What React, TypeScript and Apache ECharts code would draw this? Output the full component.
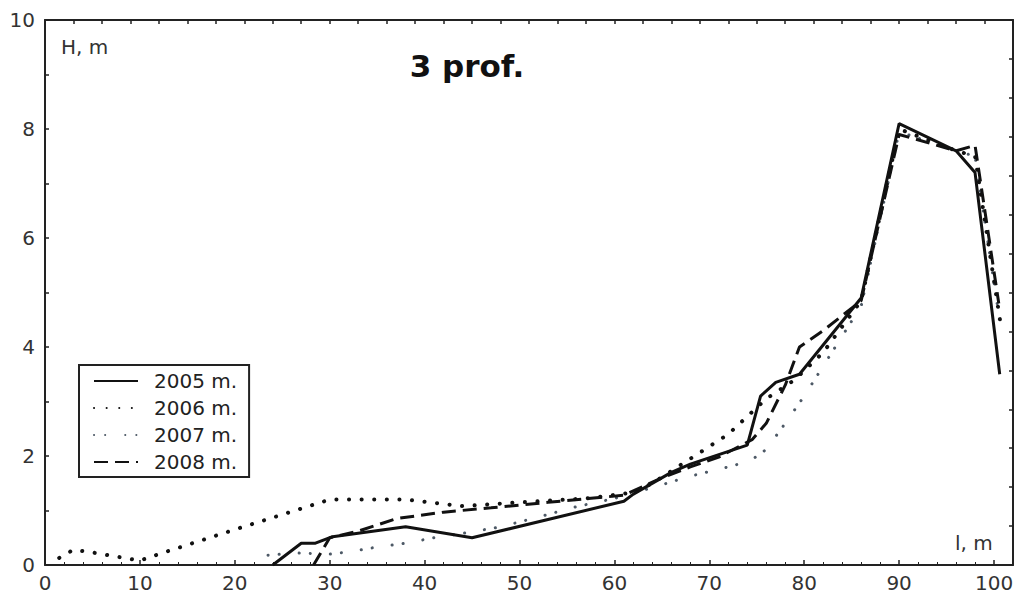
import React, { useEffect, useRef } from "react";
import * as echarts from "echarts";

const xTicks = [0, 10, 20, 30, 40, 50, 60, 70, 80, 90, 100];
const yTicks = [0, 2, 4, 6, 8, 10];

const s2005: [number, number][] = [
  [24, 0], [27, 0.4], [28.5, 0.4], [30.3, 0.52], [38, 0.7], [45, 0.5], [61, 1.17], [62, 1.3],
  [66, 1.7], [68, 1.85], [74, 2.2], [75.4, 3.1], [77, 3.35], [79.5, 3.5], [86, 4.9], [90, 8.1],
  [96, 7.6], [98, 7.2], [100.6, 3.5],
];
const s2006: [number, number][] = [
  [1.5, 0.13], [3, 0.28], [5, 0.23], [7, 0.17], [10, 0.08], [12, 0.2], [20, 0.65], [30, 1.2],
  [38, 1.2], [44, 1.08], [50, 1.15], [57, 1.22], [62, 1.33], [64, 1.5], [68, 1.95], [72, 2.4],
  [76, 3.05], [79, 3.4], [82, 3.9], [86, 4.85], [90, 8.0], [96, 7.6], [98, 7.5], [100.8, 4.3],
];
const s2007: [number, number][] = [
  [23.5, 0.18], [26.5, 0.22], [30, 0.2], [32, 0.24], [35, 0.33], [38, 0.4], [41, 0.5], [44, 0.58],
  [48, 0.7], [52, 0.88], [56, 1.07], [60, 1.22], [64, 1.42], [68, 1.63], [72, 1.8], [74.3, 1.91],
  [76, 2.12], [78, 2.6], [80, 3.1], [82, 3.65], [84, 4.2], [86, 4.75], [90, 7.95], [96, 7.6],
  [98, 7.5], [100.5, 4.6],
];
const s2008: [number, number][] = [
  [28.3, 0], [30, 0.5], [33, 0.62], [37, 0.85], [42, 0.97], [47, 1.05], [53, 1.15], [61, 1.28],
  [65, 1.6], [68, 1.8], [71, 1.98], [74.5, 2.3], [76, 2.6], [78, 3.3], [79.5, 4.0], [82, 4.3],
  [86, 4.85], [90, 7.9], [96, 7.6], [98, 7.7], [100.5, 4.8],
];

const seriesNames = ["2005 m.", "2006 m.", "2007 m.", "2008 m."];
const titleText = "3 prof.";
const yAxisName = "H, m";
const xAxisName = "l, m";

const FONT = "'DejaVu Sans', sans-serif";

export default function App() {
  const ref = useRef<HTMLDivElement>(null);
  useEffect(() => {
    if (!ref.current) return;
    const chart = echarts.init(ref.current, null, { renderer: "svg" });
    const axisColor = "#222";
    chart.setOption({
      animation: false,
      backgroundColor: "#fff",
      grid: { left: 45, right: 4, top: 20, bottom: 30 },
      xAxis: [
        {
          type: "value", min: 0, max: 102, interval: 10, position: "bottom",
          axisLine: { show: true, onZero: false, lineStyle: { color: axisColor, width: 2 } },
          axisTick: { show: true, inside: true, length: 5, lineStyle: { color: axisColor, width: 1.5 } },
          minorTick: { show: true, splitNumber: 5, length: 3, lineStyle: { color: axisColor, width: 1 } },
          axisLabel: {
            show: true, fontSize: 20, color: "#333", fontFamily: FONT, margin: 8,
            showMaxLabel: false,
            formatter: (v: number) => (xTicks.includes(v) ? String(v) : ""),
          },
          splitLine: { show: false },
        },
        {
          type: "value", min: 0, max: 102, interval: 3, position: "top",
          axisLine: { show: true, onZero: false, lineStyle: { color: axisColor, width: 2 } },
          axisTick: { show: true, inside: true, length: 4, lineStyle: { color: axisColor, width: 1.5 } },
          axisLabel: { show: false },
          splitLine: { show: false },
        },
      ],
      yAxis: [
        {
          type: "value", min: 0, max: 10, interval: 2, position: "left",
          axisLine: { show: true, onZero: false, lineStyle: { color: axisColor, width: 2 } },
          axisTick: { show: true, inside: true, length: 4, lineStyle: { color: axisColor, width: 1.5 } },
          minorTick: { show: true, splitNumber: 2, length: 4, lineStyle: { color: axisColor, width: 1.5 } },
          axisLabel: {
            show: true, fontSize: 20, color: "#333", fontFamily: FONT, margin: 10,
            formatter: (v: number) => (yTicks.includes(v) ? String(v) : ""),
          },
          splitLine: { show: false },
        },
        {
          type: "value", min: 0, max: 10, interval: 10 / 14, position: "right",
          axisLine: { show: true, onZero: false, lineStyle: { color: axisColor, width: 2 } },
          axisTick: { show: true, inside: true, length: 4, lineStyle: { color: axisColor, width: 1.5 } },
          axisLabel: { show: false },
          splitLine: { show: false },
        },
      ],
      legend: {
        orient: "vertical",
        left: 79,
        top: 365,
        itemWidth: 44,
        itemHeight: 14,
        itemGap: 7,
        padding: [6, 12, 5, 14],
        borderColor: "#222",
        borderWidth: 2,
        backgroundColor: "#fff",
        data: seriesNames,
        itemStyle: { color: "rgba(0,0,0,0)", borderColor: "rgba(0,0,0,0)", borderWidth: 0 },
        textStyle: { fontSize: 20, color: "#222", fontFamily: FONT, lineHeight: 20, padding: [0, 0, 0, 11] },
      },
      series: [
        {
          name: seriesNames[0], type: "line", data: s2005, symbol: "none", z: 5,
          lineStyle: { color: "#111", width: 3, type: "solid" },
          itemStyle: { color: "#111" },
        },
        {
          name: seriesNames[1], type: "line", data: s2006, symbol: "none", z: 4,
          lineStyle: { color: "#111", width: 4, type: [0.1, 12.5], cap: "round" },
          itemStyle: { color: "#111" },
        },
        {
          name: seriesNames[2], type: "line", data: s2007, symbol: "none", z: 3,
          lineStyle: { color: "#4d5966", width: 3, type: [0.1, 11, 0.1, 20], cap: "round" },
          itemStyle: { color: "#4d5966" },
        },
        {
          name: seriesNames[3], type: "line", data: s2008, symbol: "none", z: 4,
          lineStyle: { color: "#111", width: 3, type: [14, 7] },
          itemStyle: { color: "#111" },
        },
      ],
      graphic: [
        {
          type: "text", x: 467, y: 66, z: 10,
          style: { text: titleText, font: `bold 31px ${FONT}`, fill: "#111", align: "center", verticalAlign: "middle" },
        },
        {
          type: "text", x: 61, y: 47, z: 10,
          style: { text: yAxisName, font: `20px ${FONT}`, fill: "#333", align: "left", verticalAlign: "middle" },
        },
        {
          type: "text", x: 955, y: 543, z: 10,
          style: { text: xAxisName, font: `20px ${FONT}`, fill: "#333", align: "left", verticalAlign: "middle" },
        },
      ],
    });
    return () => chart.dispose();
  }, []);
  return (
    <div
      ref={ref}
      style={{ position: "fixed", left: 0, top: 0, width: 1017, height: 595, background: "#fff" }}
    />
  );
}
